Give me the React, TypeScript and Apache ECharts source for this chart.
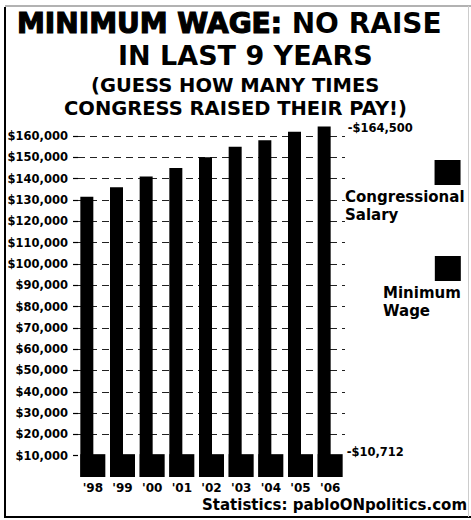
import { useEffect, useRef } from 'react';
import * as echarts from 'echarts';

const years = ["'98", "'99", "'00", "'01", "'02", "'03", "'04", "'05", "'06"];
const congressionalSalary = [131500, 136000, 141000, 145000, 150000, 155000, 158000, 162000, 164500];
const minimumWage = [10712, 10712, 10712, 10712, 10712, 10712, 10712, 10712, 10712];
const yTickValues = [10000, 20000, 30000, 40000, 50000, 60000, 70000, 80000, 90000, 100000, 110000, 120000, 130000, 140000, 150000, 160000];
const seriesNames = ['Congressional Salary', 'Minimum Wage'];
const titleLine1a = 'MINIMUM WAGE:';
const titleLine1b = 'NO RAISE';
const titleLine2 = 'IN LAST 9 YEARS';
const titleLine3 = '(GUESS HOW MANY TIMES';
const titleLine4 = 'CONGRESS RAISED THEIR PAY!)';
const sourceText = 'Statistics: pabloONpolitics.com';

const FONT = "'DejaVu Sans', sans-serif";

export default function App() {
  const ref = useRef<HTMLDivElement>(null);

  useEffect(() => {
    if (!ref.current) return;
    const chart = echarts.init(ref.current, undefined, { renderer: 'svg' });
    const lastIdx = years.length - 1;
    const money = (v: number) => '$' + v.toLocaleString('en-US');

    const withEndLabel = (arr: number[], pos: [number, number]) =>
      arr.map((v, i) =>
        i === lastIdx
          ? {
              value: v,
              label: {
                show: true,
                position: pos,
                align: 'left',
                verticalAlign: 'middle',
                formatter: (p: any) => '-' + money(p.value),
                fontFamily: FONT,
                fontWeight: 'bold',
                fontSize: 11.5,
                color: '#000',
              },
            }
          : v
      );

    const legendText = (name: string, spacer: boolean) => {
      const words = name.split(' ');
      return '{sq|}' + (spacer ? '{sp|}' : '') + '\n' + words.map((w) => '{t|' + w + '}').join('\n');
    };
    const legendRich = {
      sq: { width: 26, height: 25, lineHeight: 30, backgroundColor: '#000', align: 'right' },
      sp: { width: 4, height: 25, lineHeight: 30, align: 'right' },
      t: { fontFamily: FONT, fontWeight: 'bold', fontSize: 15, lineHeight: 18, color: '#000', align: 'left' },
    };

    chart.setOption({
      animation: false,
      backgroundColor: '#fff',
      title: [
        {
          text: '{a|' + titleLine1a + '} {b|' + titleLine1b + '}',
          left: 17,
          top: 9,
          padding: 0,
          textStyle: {
            fontFamily: FONT,
            fontWeight: 'bold',
            fontSize: 28,
            color: '#000',
            rich: {
              a: { fontFamily: FONT, fontWeight: 'bold', fontSize: 28, color: '#000', textBorderColor: '#000', textBorderWidth: 1.2 },
              b: { fontFamily: FONT, fontWeight: 'bold', fontSize: 28, color: '#000' },
            },
          },
        },
        {
          text: titleLine2,
          left: 118,
          top: 42,
          padding: 0,
          textStyle: { fontFamily: FONT, fontWeight: 'bold', fontSize: 27, color: '#000' },
        },
        {
          text: titleLine3,
          left: 91,
          top: 75.5,
          padding: 0,
          textStyle: { fontFamily: FONT, fontWeight: 'bold', fontSize: 19.5, lineHeight: 20, color: '#000' },
        },
        {
          text: titleLine4,
          left: 64,
          top: 98.5,
          padding: 0,
          textStyle: { fontFamily: FONT, fontWeight: 'bold', fontSize: 19.5, lineHeight: 20, color: '#000' },
        },
        {
          text: sourceText,
          left: 202,
          top: 497,
          padding: 0,
          textStyle: { fontFamily: FONT, fontWeight: 'bold', fontSize: 15, color: '#000' },
        },
      ],
      legend: [
        {
          data: [seriesNames[0]],
          left: 340,
          top: 160,
          padding: 0,
          icon: 'none',
          itemWidth: 0,
          itemHeight: 0,
          selectedMode: false,
          formatter: (name: string) => legendText(name, true),
          textStyle: { color: '#000', rich: legendRich },
        },
        {
          data: [seriesNames[1]],
          left: 378,
          top: 256,
          padding: 0,
          icon: 'none',
          itemWidth: 0,
          itemHeight: 0,
          selectedMode: false,
          formatter: (name: string) => legendText(name, false),
          textStyle: { color: '#000', rich: legendRich },
        },
      ],
      grid: { left: 78, right: 126, top: 136, bottom: 43, containLabel: false },
      xAxis: {
        type: 'category',
        data: years,
        axisLine: { show: false },
        axisTick: { show: false },
        axisLabel: { margin: 5, fontFamily: FONT, fontWeight: 'bold', fontSize: 12, color: '#000' },
      },
      yAxis: {
        type: 'value',
        min: 0,
        max: 160000,
        interval: 10000,
        axisLine: { show: false },
        axisTick: { show: true, length: 5, customValues: yTickValues, lineStyle: { color: '#000', width: 1.2 } },
        axisLabel: {
          customValues: yTickValues,
          margin: 10,
          fontFamily: FONT,
          fontWeight: 'bold',
          fontSize: 11.5,
          color: '#000',
          formatter: (v: number) => (v === 0 ? '' : money(v)),
        },
        splitLine: { show: true, showMinLine: false, lineStyle: { color: '#222', width: 1.2, type: [7, 5] } },
      },
      series: [
        {
          name: seriesNames[0],
          type: 'bar',
          barWidth: 13,
          barGap: '-100%',
          clip: false,
          itemStyle: { color: '#000' },
          data: withEndLabel(congressionalSalary, [30, 2]),
          z: 2,
        },
        {
          name: seriesNames[1],
          type: 'bar',
          barWidth: 25,
          barGap: '-100%',
          itemStyle: { color: '#000' },
          data: withEndLabel(minimumWage, [29, -2]),
          z: 3,
        },
      ],
      graphic: [
        { type: 'line', shape: { x1: 5, y1: 7, x2: 5, y2: 518 }, style: { stroke: '#000', lineWidth: 2 }, silent: true },
        { type: 'line', shape: { x1: 5, y1: 517, x2: 471, y2: 517 }, style: { stroke: '#000', lineWidth: 2 }, silent: true },
        { type: 'line', shape: { x1: 5, y1: 6, x2: 471, y2: 6 }, style: { stroke: '#666', lineWidth: 1.2 }, silent: true },
        { type: 'line', shape: { x1: 468.5, y1: 6, x2: 468.5, y2: 517 }, style: { stroke: '#ccc', lineWidth: 1 }, silent: true },
      ],
    });

    return () => chart.dispose();
  }, []);

  return (
    <div
      ref={ref}
      style={{ position: 'fixed', left: 0, top: 0, width: 471, height: 520 }}
    />
  );
}
